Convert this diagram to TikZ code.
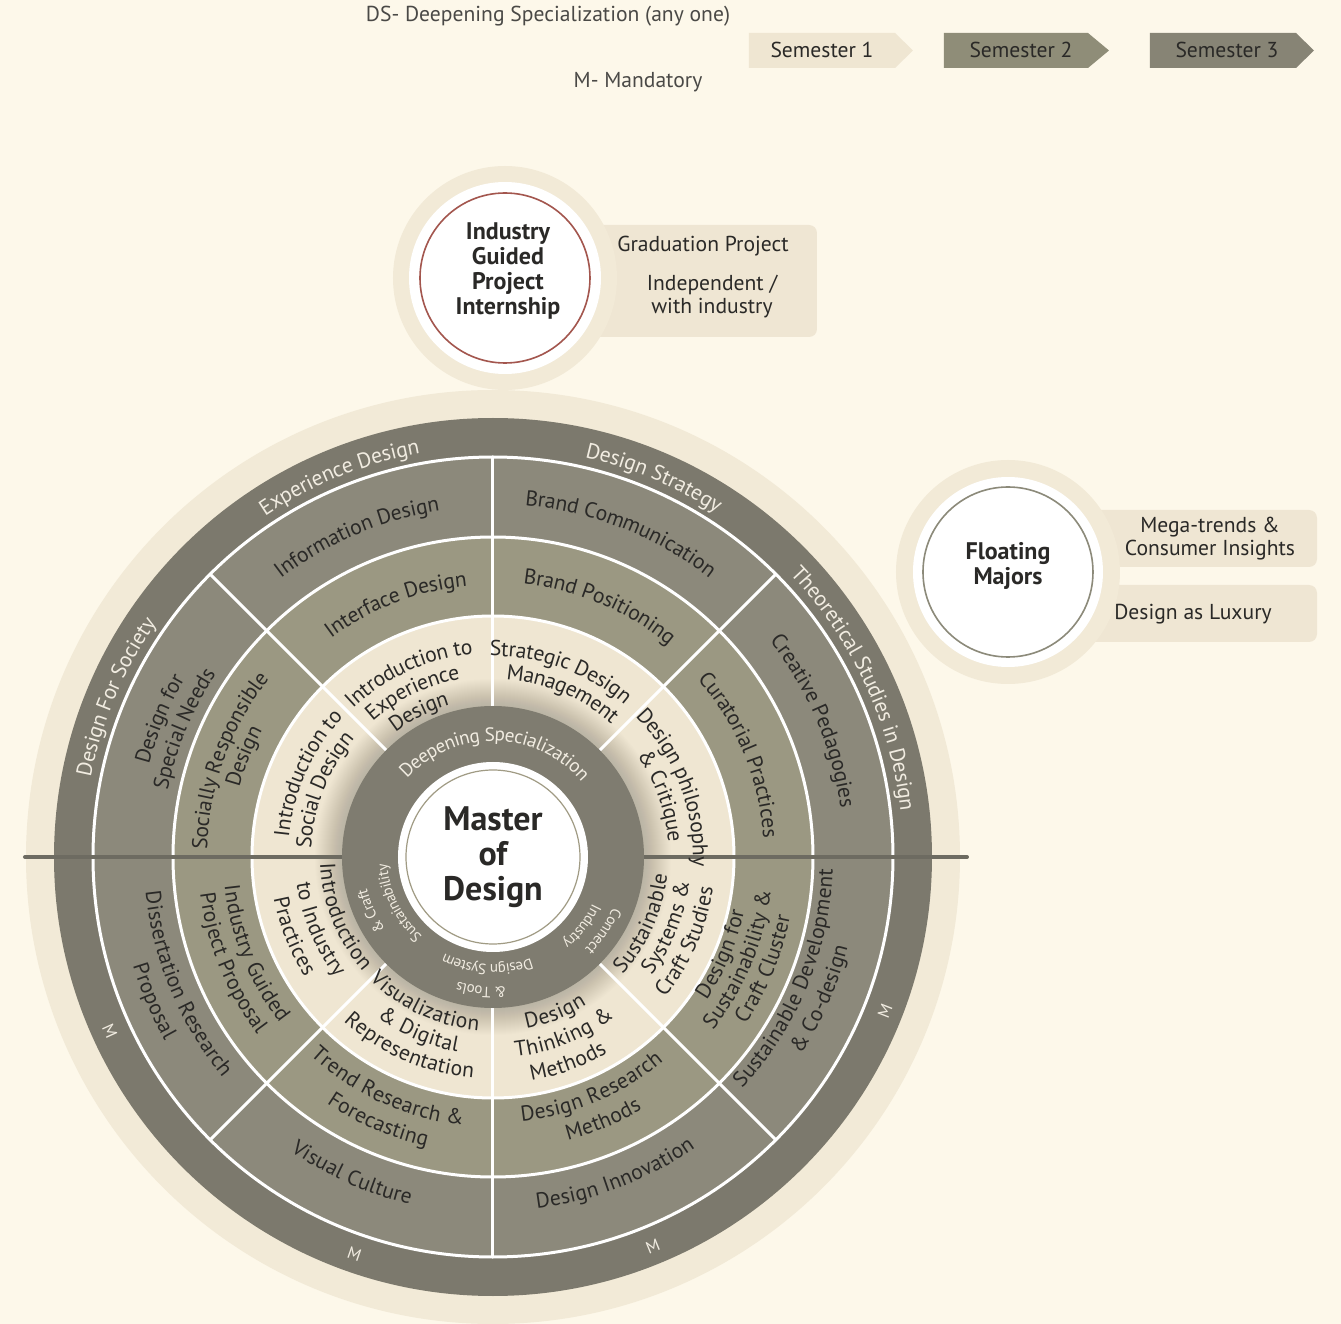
\documentclass[tikz,border=0pt]{standalone}
\usepackage{fontspec}
\setmainfont{PT Sans}
\usepackage{tikz}
\usetikzlibrary{positioning}
\usetikzlibrary{calc}
\usetikzlibrary{decorations.text}

\definecolor{paper}{HTML}{FDF8EA}
\definecolor{halo}{HTML}{F2EAD7}
\definecolor{boxfill}{HTML}{EFE6D3}
\definecolor{semone}{HTML}{EFE6D2}
\definecolor{semtwo}{HTML}{9B9882}
\definecolor{semthree}{HTML}{8C897B}
\definecolor{rimgray}{HTML}{7C796D}
\definecolor{hubgray}{HTML}{7F7C70}
\definecolor{hubring}{HTML}{A09B84}
\definecolor{inkdark}{HTML}{2A2927}
\definecolor{inkgray}{HTML}{4A4946}
\definecolor{inklight}{HTML}{F1ECE1}
\definecolor{splitline}{HTML}{6D6B61}
\definecolor{brickred}{HTML}{A3564E}
\definecolor{majorring}{HTML}{8C8A7A}
\definecolor{legtwo}{HTML}{8F8D78}
\definecolor{legthree}{HTML}{878475}

\newcommand{\labfont}{\fontsize{10.8}{12}\selectfont}
\newcommand{\hubfont}{\fontsize{9.6}{11}\selectfont}
\newcommand{\tinyfont}{\fontsize{7.5}{8.5}\selectfont}
\newcommand{\bigfont}{\fontsize{12}{12.5}\selectfont\bfseries}

% label on a clockwise arc, letters pointing outwards
\newcommand{\overarc}[5][\labfont]{%
	\path[decorate,decoration={text along path,text align=center,raise=-3.5pt,
		text color=#4,text={|#1|#5}}]
		({#3+70}:#2) arc[start angle={#3+70},end angle={#3-70},radius=#2];}
% label on an anticlockwise arc, letters pointing inwards
\newcommand{\underarc}[5][\labfont]{%
	\path[decorate,decoration={text along path,text align=center,raise=-3.5pt,
		text color=#4,text={|#1|#5}}]
		({#3-70}:#2) arc[start angle={#3-70},end angle={#3+70},radius=#2];}

\begin{document}
\begin{tikzpicture}[x=0.5pt,y=0.5pt,line cap=round,line join=round]
	\useasboundingbox (-493,-467) rectangle (848,857);
	\fill[paper] (-493,-467) rectangle (848,857);
	
	% legend
	\node[font=\labfont,text=inkgray] (dslegend) at (55,841) {DS- Deepening Specialization (any one)};
	\node[font=\labfont,text=inkgray] (mlegend) at (145,775) {M- Mandatory};
	\fill[semone] (256,789) -- (402,789) -- (420,806.5) -- (402,824) -- (256,824) -- cycle;
	\fill[legtwo] (451,789) -- (595,789) -- (616,806.5) -- (595,824) -- (451,824) -- cycle;
	\fill[legthree] (657,789) -- (803,789) -- (821,806.5) -- (803,824) -- (657,824) -- cycle;
	\node[font=\labfont,text=inkdark] (semA) at (329,807) {Semester 1};
	\node[font=\labfont,text=inkdark] (semB) at (528,807) {Semester 2};
	\node[font=\labfont,text=inkdark] (semC) at (734,807) {Semester 3};
	
	% halos and side boxes
	\fill[halo] (0,0) circle (467);
	\fill[boxfill,rounded corners=4pt] (60,520) rectangle (324,632);
	\fill[boxfill,rounded corners=4pt] (560,290) rectangle (824,347);
	\fill[boxfill,rounded corners=4pt] (560,215) rectangle (824,272);
	\fill[halo] (12,579) circle (112);
	\fill[halo] (515,285) circle (112);
	
	% industry project
	\fill[white] (12,579) circle (96);
	\draw[brickred,line width=0.8pt] (12,579) circle (85);
	\node[font=\bigfont,text=inkdark,align=center] (industry) at (15,586) {Industry\\Guided\\Project\\Internship};
	\node[font=\labfont,text=inkdark] (gradproj) at (210,611) {Graduation Project};
	\node[font=\fontsize{10.8}{11.5}\selectfont,text=inkdark,align=center] (indep) at (219,560) {Independent /\\with industry};
	
	% floating majors
	\fill[white] (515,285) circle (95);
	\draw[majorring,line width=0.8pt] (515,285) circle (85);
	\node[font=\bigfont,text=inkdark,align=center] (floating) at (515,291) {Floating\\Majors};
	\node[font=\fontsize{10.8}{11.5}\selectfont,text=inkdark,align=center] (megatrends) at (717,318) {Mega-trends \&\\Consumer Insights};
	\node[font=\labfont,text=inkdark] (luxury) at (700,243) {Design as Luxury};
	
	% the wheel
	\fill[rimgray] (0,0) circle (439);
	\fill[semthree] (0,0) circle (400);
	\fill[semtwo] (0,0) circle (320);
	\fill[semone] (0,0) circle (241);
	\foreach \r in {152,153,...,178}
		\fill[hubgray,opacity=0.014] (0,0) circle (\r);
	\draw[white,line width=1.5pt] (0,0) circle (400) (0,0) circle (320) (0,0) circle (241);
	\foreach \a in {45,90,135,225,270,315}
		\draw[white,line width=1.5pt] (\a:151) -- (\a:400);
	\draw[splitline,line width=2pt] (-468,0) -- (-151,0) (151,0) -- (474,0);
	\fill[hubgray] (0,0) circle (151);
	\fill[white] (0,0) circle (95);
	\draw[hubring,line width=0.6pt] (0,0) circle (87);
	\node[font=\fontsize{17}{17.5}\selectfont\bfseries,text=inkdark,align=center] (master) at (0,0) {Master\\of\\Design};
	
	% outer rim
	\overarc{417}{112}{inklight}{Experience Design}
	\overarc{417}{67}{inklight}{Design Strategy}
	\overarc{417}{25}{inklight}{Theoretical Studies in Design}
	\overarc{417}{157}{inklight}{Design For Society}
	\foreach \a [count=\i] in {204.5,250.8,292.3,338.6}
		\node[font=\fontsize{8.5}{9}\selectfont,text=inklight,rotate=\a+90] (mand\i) at (\a:421) {M};
	
	% semester 3
	\overarc{357}{113}{inkdark}{Information Design}
	\overarc{360}{68.5}{inkdark}{Brand Communication}
	\overarc{358}{23}{inkdark}{Creative Pedagogies}
	\overarc{363}{157.5}{inkdark}{Design for}
	\overarc{339}{157.5}{inkdark}{Special Needs}
	\underarc{342}{202.5}{inkdark}{Dissertation Research}
	\underarc{369}{203}{inkdark}{Proposal}
	\underarc{350}{246}{inkdark}{Visual Culture}
	\underarc{347}{291}{inkdark}{Design Innovation}
	\underarc{333}{337.5}{inkdark}{Sustainable Development}
	\underarc{359}{336.5}{inkdark}{{\&} Co-design}
	
	% semester 2
	\overarc{279}{111}{inkdark}{Interface Design}
	\overarc{282}{67}{inkdark}{Brand Positioning}
	\overarc{278}{22.5}{inkdark}{Curatorial Practices}
	\overarc{293}{160}{inkdark}{Socially Responsible}
	\overarc{270}{158}{inkdark}{Design}
	\underarc{263}{202}{inkdark}{Industry Guided}
	\underarc{288}{202}{inkdark}{Project Proposal}
	\underarc{263}{245.5}{inkdark}{Trend Research {\&}}
	\underarc{290}{246.5}{inkdark}{Forecasting}
	\underarc{259}{293}{inkdark}{Design Research}
	\underarc{286}{292.7}{inkdark}{Methods}
	\underarc{250}{337}{inkdark}{Design for}
	\underarc{273}{337.4}{inkdark}{Sustainability {\&}}
	\underarc{296}{337.6}{inkdark}{Craft Cluster}
	
	% semester 1
	\overarc{211}{114.5}{inkdark}{Introduction to}
	\overarc{188}{116}{inkdark}{Experience}
	\overarc{165}{117}{inkdark}{Design}
	\overarc{208}{70}{inkdark}{Strategic Design}
	\overarc{185}{67}{inkdark}{Management}
	\overarc{207}{21}{inkdark}{Design philosophy}
	\overarc{183}{20}{inkdark}{{\&} Critique}
	\overarc{212}{155.7}{inkdark}{Introduction to}
	\overarc{189}{158.5}{inkdark}{Social Design}
	\underarc{166}{201.7}{inkdark}{Introduction}
	\underarc{191}{202.6}{inkdark}{to Industry}
	\underarc{216}{201.6}{inkdark}{Practices}
	\underarc{167}{245}{inkdark}{Visualization}
	\underarc{191}{246.9}{inkdark}{{\&} Digital}
	\underarc{215}{246.3}{inkdark}{Representation}
	\underarc{168}{291.7}{inkdark}{Design}
	\underarc{194}{291.8}{inkdark}{Thinking {\&}}
	\underarc{220}{290}{inkdark}{Methods}
	\underarc{168}{336}{inkdark}{Sustainable}
	\underarc{191}{338}{inkdark}{Systems {\&}}
	\underarc{215}{336.4}{inkdark}{Craft Studies}
	
	% hub ring
	\overarc[\hubfont]{123}{89}{inklight}{Deepening Specialization}
	\overarc[\tinyfont]{113}{206}{inklight}{Sustainability}
	\overarc[\tinyfont]{137}{204}{inklight}{{\&} Craft}
	\overarc[\tinyfont]{115}{267}{inklight}{Design System}
	\overarc[\tinyfont]{137}{265}{inklight}{{\&} Tools}
	\overarc[\tinyfont]{137}{326}{inklight}{Connect}
	\overarc[\tinyfont]{117}{322}{inklight}{Industry}
\end{tikzpicture}
\end{document}
